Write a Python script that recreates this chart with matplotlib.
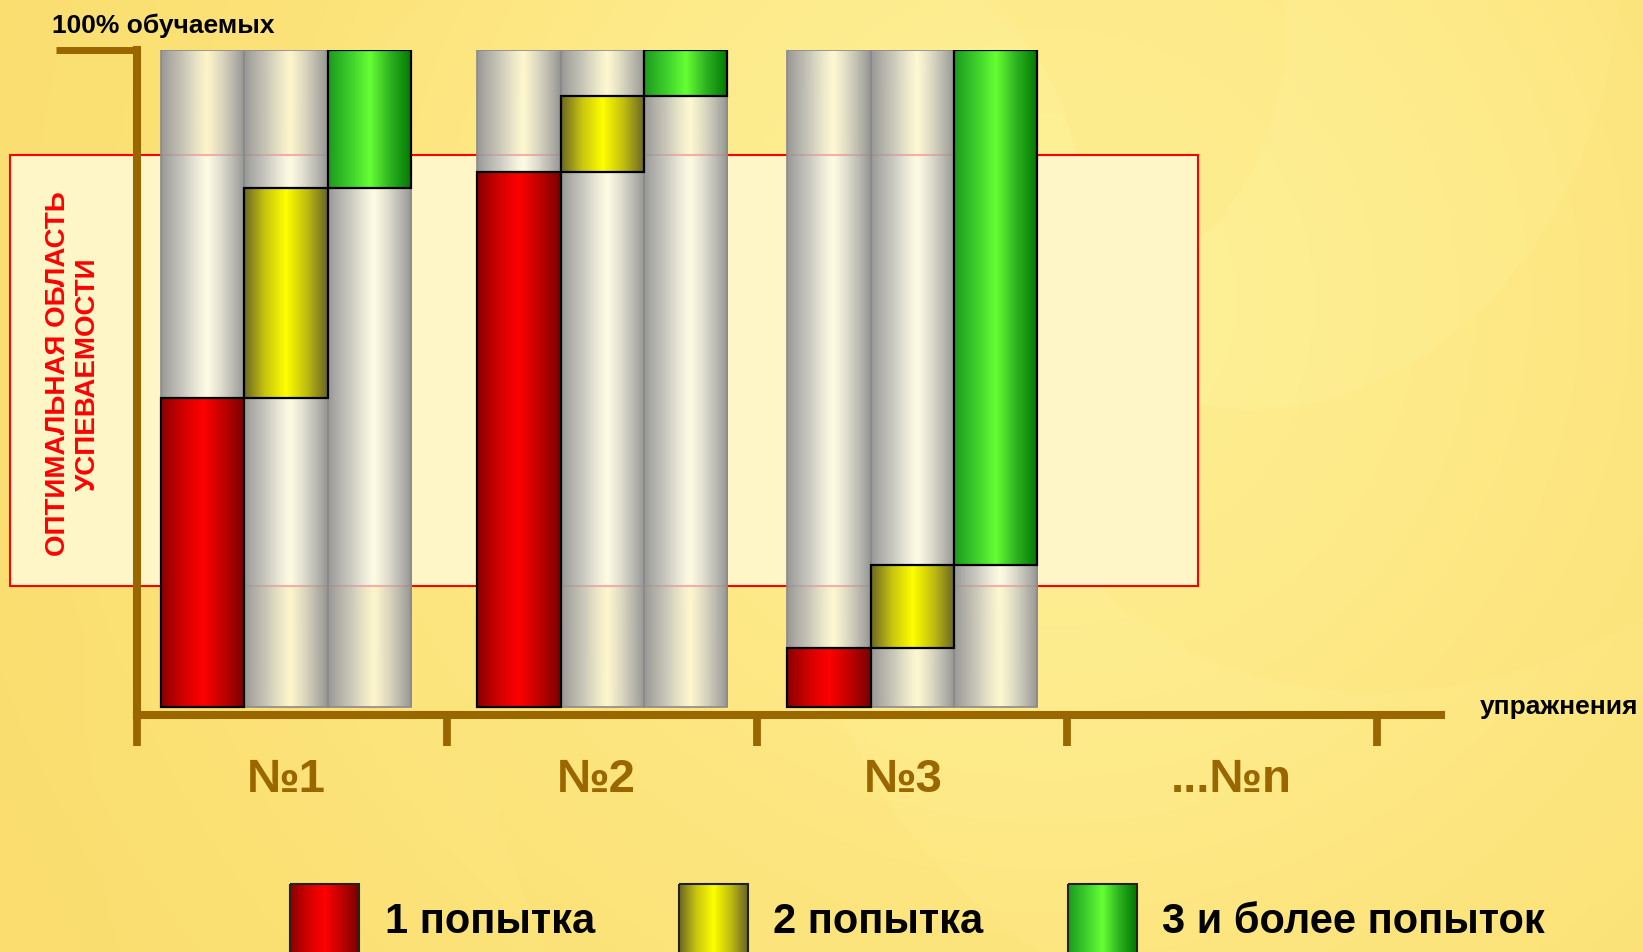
import numpy as np
import matplotlib.pyplot as plt
from matplotlib.colors import LinearSegmentedColormap, to_rgb
from matplotlib.patches import Rectangle

plt.rcParams['font.family'] = ['Liberation Sans', 'DejaVu Sans']

# share of learners (%) who solved each exercise with a given number of attempts
exercises = ['№1', '№2', '№3', '...№n']
first_try = [47, 81.5, 9]
second_try = [32, 11.5, 12.6]
third_plus = [21, 7, 78.4]
optimal_zone = [18.5, 84]          # optimal success band, % of learners
legend_labels = ['1 попытка', '2 попытка', '3 и более попыток']

W, H = 1643, 953
BROWN = '#996600'

fig = plt.figure(figsize=(W / 100, H / 100), dpi=100)

# ---- background (full figure, pixel coords) ----
bg = fig.add_axes([0, 0, 1, 1])
bg.set_xlim(0, W)
bg.set_ylim(H, 0)
bg.axis('off')
yy, xx = np.mgrid[0:H:2, 0:W:2]
dx, dy = xx - 1050, yy - 300
r = np.hypot(dx, dy)
th = np.arctan2(dy, dx)
glow = np.exp(-(r / 850) ** 2)
swirl = 0.5 + 0.5 * np.sign(np.sin(3 * th + r / 140))
val = 0.75 * glow + 0.1 * swirl * np.exp(-(r / 900) ** 2)
bg_cmap = LinearSegmentedColormap.from_list('bg', ['#FADD6E', '#FDE680', '#FEF096'])
bg.imshow(val, cmap=bg_cmap, extent=[0, W, H, 0], aspect='auto', zorder=0,
          interpolation='gaussian')

# ---- chart axes ----
x_unit = 310.0
ax = fig.add_axes([137.3 / W, (H - 716) / H, 4.205 * x_unit / W, (716 - 51) / H])
ax.patch.set_alpha(0)

# optimal zone box (behind the bars)
ax.add_patch(Rectangle((-0.41, optimal_zone[0]), 3.83, optimal_zone[1] - optimal_zone[0],
                       facecolor='#FFF6C8', edgecolor='red', lw=1.5, zorder=0.5, clip_on=False))

grad = np.linspace(0, 1, 256).reshape(1, -1)


def shade(bars, cmap, z=2):
    for b in bars:
        x0, y0 = b.get_x(), b.get_y()
        ax.imshow(grad, cmap=cmap, aspect='auto', zorder=z,
                  extent=[x0, x0 + b.get_width(), y0, y0 + b.get_height()],
                  interpolation='bicubic')


def rgba(c, a):
    return (*to_rgb(c), a)


# semi-transparent "metal" grey: opaque grey edges, see-through light centre
grey_cmap = LinearSegmentedColormap.from_list('g', [
    (0.0, rgba('#969696', 0.98)), (0.28, rgba('#C6C6C2', 0.88)), (0.55, rgba('#FFFFF2', 0.68)),
    (0.8, rgba('#C2C2BE', 0.88)), (1.0, rgba('#929292', 0.98))])
red_cmap = LinearSegmentedColormap.from_list('r', ['#8A0000', '#D00000', '#FF0000', '#C00000', '#780000'])
yel_cmap = LinearSegmentedColormap.from_list('y', ['#6A6624', '#C8C410', '#FFFF00', '#C0BC10', '#686426'])
grn_cmap = LinearSegmentedColormap.from_list('gr', ['#1C9A1C', '#3CCC2C', '#66FF33', '#2CB020', '#007800'])
seg_cmaps = [red_cmap, yel_cmap, grn_cmap]

centers = np.array([0.48, 1.5, 2.5])
bw = 0.269
shares = np.array([first_try, second_try, third_plus], dtype=float)
bottoms = np.vstack([np.zeros(len(first_try)), np.cumsum(shares, axis=0)[:-1]])

for j in range(3):
    xs = centers + (j - 1) * bw
    full = ax.bar(xs, 100, bw, bottom=0, facecolor='none', edgecolor='#8A8A8A', lw=1.2, zorder=3)
    shade(full, grey_cmap, z=2)
    seg = ax.bar(xs, shares[j], bw, bottom=bottoms[j], facecolor='none',
                 edgecolor='black', lw=1.6, zorder=5)
    shade(seg, seg_cmaps[j], z=4)

ax.set_xlim(0, 4.205)
ax.set_ylim(-1.17, 100)

# axes styling
for s in ['top', 'right']:
    ax.spines[s].set_visible(False)
for s in ['left', 'bottom']:
    ax.spines[s].set_color(BROWN)
    ax.spines[s].set_linewidth(5.8)
    ax.spines[s].set_zorder(6)
ax.set_yticks([])
ax.set_xticks(range(5))
ax.set_xticklabels([])
ax.tick_params(axis='x', length=22, width=5.6, color=BROWN, direction='out')
# short stub at the top of the y axis
ax.plot([-0.262, 0.0], [100, 100], color=BROWN, lw=5, solid_capstyle='butt', clip_on=False, zorder=6)

label_pos = [0.48, 1.48, 2.47, 3.53]
for p, lab in zip(label_pos, exercises):
    ax.text(p, -0.114, lab, transform=ax.get_xaxis_transform(), ha='center', va='baseline',
            fontsize=34, weight='bold', color=BROWN)

# axis captions
fig.text(51.7 / W, 1 - 32.7 / H, '100% обучаемых', ha='left', va='baseline',
         fontsize=19, weight='bold', color='black')
fig.text(1638 / W, 1 - 714 / H, 'упражнения', ha='right', va='baseline',
         fontsize=19, weight='bold', color='black')

# vertical caption inside the optimal zone
fig.text(73 / W, 1 - 374 / H, 'ОПТИМАЛЬНАЯ ОБЛАСТЬ\nУСПЕВАЕМОСТИ', rotation=90,
         ha='center', va='center', multialignment='center', fontsize=20,
         weight='bold', color='red')

# legend
leg_x = [290, 679, 1068]
txt_x = [385, 773, 1162]
for lx, tx, cm, lab in zip(leg_x, txt_x, seg_cmaps, legend_labels):
    bg.imshow(grad, cmap=cm, extent=[lx, lx + 69, 975, 885], aspect='auto', zorder=2,
              interpolation='bicubic')
    bg.add_patch(Rectangle((lx, 885), 69, 90, facecolor='none', edgecolor='#222222', lw=1.5, zorder=3))
    bg.text(tx, 933, lab, ha='left', va='baseline', fontsize=30, weight='bold', color='black')
bg.set_xlim(0, W)
bg.set_ylim(H, 0)

fig.savefig('out.png', dpi=100)
